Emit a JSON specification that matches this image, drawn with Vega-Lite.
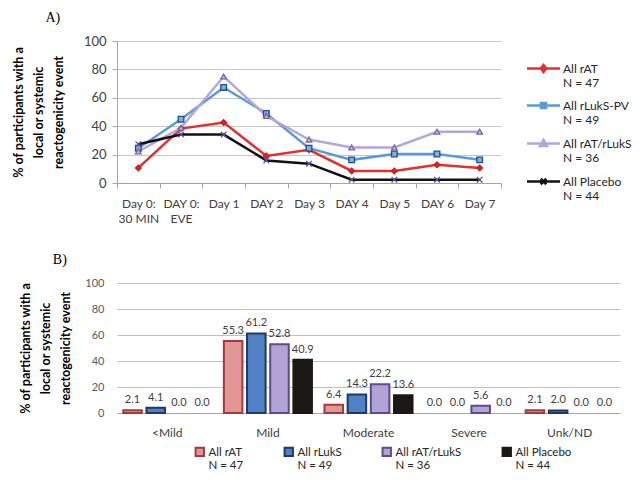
{
  "$schema": "https://vega.github.io/schema/vega-lite/v6.json",
  "background": "white",
  "padding": {"left": 12, "top": 11, "right": 0, "bottom": 0},
  "spacing": 29,
  "config": {
    "font": "Lato",
    "view": {"stroke": null},
    "axis": {"titleLineHeight": 20},
    "title": {"font": "Liberation Serif", "fontSize": 14, "fontWeight": "normal", "anchor": "start", "color": "black"}
  },
  "vconcat": [
    {
      "title": {"text": "A)", "dx": 33, "offset": 10},
      "width": 384,
      "height": 142,
      "data": {"values": [
        {"day": "Day 0: 30 MIN", "series": "All rAT", "pct": 10.6},
        {"day": "DAY 0: EVE", "series": "All rAT", "pct": 38.3},
        {"day": "Day 1", "series": "All rAT", "pct": 42.6},
        {"day": "DAY 2", "series": "All rAT", "pct": 19.1},
        {"day": "Day 3", "series": "All rAT", "pct": 23.4},
        {"day": "DAY 4", "series": "All rAT", "pct": 8.5},
        {"day": "Day 5", "series": "All rAT", "pct": 8.5},
        {"day": "DAY 6", "series": "All rAT", "pct": 12.8},
        {"day": "Day 7", "series": "All rAT", "pct": 10.6},
        {"day": "Day 0: 30 MIN", "series": "All rLukS-PV", "pct": 24.5},
        {"day": "DAY 0: EVE", "series": "All rLukS-PV", "pct": 44.9},
        {"day": "Day 1", "series": "All rLukS-PV", "pct": 67.3},
        {"day": "DAY 2", "series": "All rLukS-PV", "pct": 49.0},
        {"day": "Day 3", "series": "All rLukS-PV", "pct": 24.5},
        {"day": "DAY 4", "series": "All rLukS-PV", "pct": 16.3},
        {"day": "Day 5", "series": "All rLukS-PV", "pct": 20.4},
        {"day": "DAY 6", "series": "All rLukS-PV", "pct": 20.4},
        {"day": "Day 7", "series": "All rLukS-PV", "pct": 16.3},
        {"day": "Day 0: 30 MIN", "series": "All rAT/rLukS", "pct": 22.2},
        {"day": "DAY 0: EVE", "series": "All rAT/rLukS", "pct": 38.9},
        {"day": "Day 1", "series": "All rAT/rLukS", "pct": 75.0},
        {"day": "DAY 2", "series": "All rAT/rLukS", "pct": 47.2},
        {"day": "Day 3", "series": "All rAT/rLukS", "pct": 30.6},
        {"day": "DAY 4", "series": "All rAT/rLukS", "pct": 25.0},
        {"day": "Day 5", "series": "All rAT/rLukS", "pct": 25.0},
        {"day": "DAY 6", "series": "All rAT/rLukS", "pct": 36.1},
        {"day": "Day 7", "series": "All rAT/rLukS", "pct": 36.1},
        {"day": "Day 0: 30 MIN", "series": "All Placebo", "pct": 27.3},
        {"day": "DAY 0: EVE", "series": "All Placebo", "pct": 34.1},
        {"day": "Day 1", "series": "All Placebo", "pct": 34.1},
        {"day": "DAY 2", "series": "All Placebo", "pct": 15.9},
        {"day": "Day 3", "series": "All Placebo", "pct": 13.6},
        {"day": "DAY 4", "series": "All Placebo", "pct": 2.3},
        {"day": "Day 5", "series": "All Placebo", "pct": 2.3},
        {"day": "DAY 6", "series": "All Placebo", "pct": 2.3},
        {"day": "Day 7", "series": "All Placebo", "pct": 2.3}
      ]},
      "encoding": {
        "x": {
          "field": "day", "type": "ordinal",
          "sort": ["Day 0: 30 MIN", "DAY 0: EVE", "Day 1", "DAY 2", "Day 3", "DAY 4", "Day 5", "DAY 6", "Day 7"],
          "scale": {"type": "band", "paddingInner": 0, "paddingOuter": 0},
          "axis": {
            "title": null, "labelAngle": 0, "labelFontSize": 12, "labelLineHeight": 15, "labelColor": "#404040",
            "labelPadding": 10, "tickBand": "extent", "tickSize": 5, "tickColor": "#A6A6A6", "domainColor": "#A6A6A6",
            "grid": false,
            "labelExpr": "datum.label == 'Day 0: 30 MIN' ? ['Day 0:', '30 MIN'] : datum.label == 'DAY 0: EVE' ? ['DAY 0:', 'EVE'] : datum.label"
          }
        },
        "y": {
          "field": "pct", "type": "quantitative",
          "scale": {"domain": [0, 100]},
          "axis": {
            "title": ["% of participants with a", "local or systemic", "reactogenicity event"],
            "titleFontSize": 12.5, "titleFontWeight": "bold", "titleColor": "black", "titleLineHeight": 20, "titlePadding": 18,
            "values": [0, 20, 40, 60, 80, 100], "labelFontSize": 13, "labelColor": "#404040", "labelPadding": 6,
            "tickSize": 5, "tickColor": "#A6A6A6", "domainColor": "#A6A6A6", "gridColor": "#C8C8C8"
          }
        }
      },
      "layer": [
        {
          "mark": {"type": "line", "strokeWidth": 2.5},
          "encoding": {
            "color": {"field": "series", "type": "nominal",
              "scale": {"domain": ["All rAT", "All rLukS-PV", "All rAT/rLukS", "All Placebo"], "range": ["#E0302F", "#5B9BD5", "#B4A7D6", "#111111"]},
              "legend": null}
          }
        },
        {
          "mark": {"type": "point", "size": 32, "strokeWidth": 1.3, "opacity": 1},
          "encoding": {
            "shape": {"field": "series", "type": "nominal",
              "scale": {"domain": ["All rAT", "All rLukS-PV", "All rAT/rLukS", "All Placebo"], "range": ["diamond", "square", "triangle-up", "M-1,-1L1,1M-1,1L1,-1"]},
              "legend": null},
            "fill": {"field": "series", "type": "nominal",
              "scale": {"domain": ["All rAT", "All rLukS-PV", "All rAT/rLukS", "All Placebo"], "range": ["#D42A2A", "#7FAEE0", "#C8BEE0", "#6050A0"]},
              "legend": null},
            "stroke": {"field": "series", "type": "nominal",
              "scale": {"domain": ["All rAT", "All rLukS-PV", "All rAT/rLukS", "All Placebo"], "range": ["#C02020", "#1F4E8C", "#8064A2", "#6050A0"]},
              "legend": null}
          }
        },
        {
          "transform": [{"filter": "false"}],
          "mark": {"type": "point", "opacity": 1},
          "encoding": {
            "shape": {"field": "series", "type": "nominal",
              "scale": {"domain": ["All rAT", "All rLukS-PV", "All rAT/rLukS", "All Placebo"],
                "range": ["M-3.3,0H3.3M0,-0.7L0.55,0L0,0.7L-0.55,0Z", "M-3.3,0H3.3M-0.5,-0.5H0.5V0.5H-0.5Z", "M-3.3,0H3.3M0,-0.7L0.7,0.5H-0.7Z", "M-3.3,0H3.3M-0.55,-0.55L0.55,0.55M-0.55,0.55L0.55,-0.55"]},
              "legend": {"orient": "none", "legendX": 420, "legendY": 21, "title": null, "symbolSize": 100, "symbolStrokeWidth": 2.5, "symbolOpacity": 1,
                "labelOffset": 13, "labelFontSize": 12, "labelColor": "#262626", "labelLineHeight": 15, "labelBaseline": "alphabetic", "rowPadding": 9,
                "labelExpr": "[datum.label, datum.label == 'All rAT' ? 'N = 47' : datum.label == 'All rLukS-PV' ? 'N = 49' : datum.label == 'All rAT/rLukS' ? 'N = 36' : 'N = 44']",
                "encoding": {"labels": {"dy": {"value": 4}}}}},
            "fill": {"field": "series", "type": "nominal",
              "scale": {"domain": ["All rAT", "All rLukS-PV", "All rAT/rLukS", "All Placebo"], "range": ["#D42A2A", "#7FAEE0", "#B4A7D6", "#6050A0"]},
              "legend": {"orient": "none", "legendX": 420, "legendY": 21, "title": null, "symbolSize": 100, "symbolStrokeWidth": 2.5, "symbolOpacity": 1,
                "labelOffset": 13, "labelFontSize": 12, "labelColor": "#262626", "labelLineHeight": 15, "labelBaseline": "alphabetic", "rowPadding": 9,
                "labelExpr": "[datum.label, datum.label == 'All rAT' ? 'N = 47' : datum.label == 'All rLukS-PV' ? 'N = 49' : datum.label == 'All rAT/rLukS' ? 'N = 36' : 'N = 44']",
                "encoding": {"labels": {"dy": {"value": 4}}}}},
            "stroke": {"field": "series", "type": "nominal",
              "scale": {"domain": ["All rAT", "All rLukS-PV", "All rAT/rLukS", "All Placebo"], "range": ["#E0302F", "#5B9BD5", "#B4A7D6", "#111111"]},
              "legend": {"orient": "none", "legendX": 420, "legendY": 21, "title": null, "symbolSize": 100, "symbolStrokeWidth": 2.5, "symbolOpacity": 1,
                "labelOffset": 13, "labelFontSize": 12, "labelColor": "#262626", "labelLineHeight": 15, "labelBaseline": "alphabetic", "rowPadding": 9,
                "labelExpr": "[datum.label, datum.label == 'All rAT' ? 'N = 47' : datum.label == 'All rLukS-PV' ? 'N = 49' : datum.label == 'All rAT/rLukS' ? 'N = 36' : 'N = 44']",
                "encoding": {"labels": {"dy": {"value": 4}}}}}
          }
        }
      ],
      "resolve": {"scale": {"shape": "independent", "fill": "independent", "stroke": "independent"}}
    },
    {
      "title": {"text": "B)", "dx": 33, "offset": 10},
      "width": 503,
      "height": 130,
      "data": {"values": [
        {"severity": "<Mild", "group": "All rAT", "pct": 2.1},
        {"severity": "<Mild", "group": "All rLukS", "pct": 4.1},
        {"severity": "<Mild", "group": "All rAT/rLukS", "pct": 0.0},
        {"severity": "<Mild", "group": "All Placebo", "pct": 0.0},
        {"severity": "Mild", "group": "All rAT", "pct": 55.3},
        {"severity": "Mild", "group": "All rLukS", "pct": 61.2},
        {"severity": "Mild", "group": "All rAT/rLukS", "pct": 52.8},
        {"severity": "Mild", "group": "All Placebo", "pct": 40.9},
        {"severity": "Moderate", "group": "All rAT", "pct": 6.4},
        {"severity": "Moderate", "group": "All rLukS", "pct": 14.3},
        {"severity": "Moderate", "group": "All rAT/rLukS", "pct": 22.2},
        {"severity": "Moderate", "group": "All Placebo", "pct": 13.6},
        {"severity": "Severe", "group": "All rAT", "pct": 0.0},
        {"severity": "Severe", "group": "All rLukS", "pct": 0.0},
        {"severity": "Severe", "group": "All rAT/rLukS", "pct": 5.6},
        {"severity": "Severe", "group": "All Placebo", "pct": 0.0},
        {"severity": "Unk/ND", "group": "All rAT", "pct": 2.1},
        {"severity": "Unk/ND", "group": "All rLukS", "pct": 2.0},
        {"severity": "Unk/ND", "group": "All rAT/rLukS", "pct": 0.0},
        {"severity": "Unk/ND", "group": "All Placebo", "pct": 0.0}
      ]},
      "encoding": {
        "x": {
          "field": "severity", "type": "nominal",
          "sort": ["<Mild", "Mild", "Moderate", "Severe", "Unk/ND"],
          "scale": {"paddingInner": 0, "paddingOuter": 0},
          "axis": {"title": null, "labelAngle": 0, "labelFontSize": 12, "labelColor": "#404040", "labelPadding": 14,
            "ticks": false, "domainColor": "#A6A6A6", "grid": false}
        },
        "xOffset": {
          "field": "group", "type": "nominal",
          "sort": ["All rAT", "All rLukS", "All rAT/rLukS", "All Placebo"],
          "scale": {"domain": ["All rAT", "All rLukS", "All rAT/rLukS", "All Placebo"], "paddingInner": 0.2, "paddingOuter": 0.27}
        },
        "y": {
          "field": "pct", "type": "quantitative",
          "scale": {"domain": [0, 100]},
          "axis": {
            "title": ["% of participants with a", "local or systemic", "reactogenicity event"],
            "titleFontSize": 12.5, "titleFontWeight": "bold", "titleColor": "black", "titleLineHeight": 20, "titlePadding": 12,
            "values": [0, 20, 40, 60, 80, 100], "labelFontSize": 11, "labelColor": "#595959", "labelPadding": 13,
            "ticks": false, "domain": false, "gridColor": "#BFBFBF"
          }
        }
      },
      "layer": [
        {
          "transform": [{"filter": "datum.pct > 0"}],
          "mark": {"type": "bar", "strokeWidth": 2},
          "encoding": {
            "fill": {"field": "group", "type": "nominal",
              "scale": {"domain": ["All rAT", "All rLukS", "All rAT/rLukS", "All Placebo"], "range": ["#E39696", "#4F81C6", "#B3A2D5", "#1C1815"]},
              "legend": {"orient": "none", "direction": "horizontal", "columns": 4, "legendX": 77, "legendY": 405, "title": null,
                "symbolType": "square", "symbolSize": 70, "symbolStrokeWidth": 2, "symbolOpacity": 1, "columnPadding": 36,
                "labelOffset": 3, "labelFontSize": 11.5, "labelColor": "#262626", "labelLineHeight": 16, "labelBaseline": "alphabetic",
                "labelExpr": "[datum.label, datum.label == 'All rAT' ? 'N = 47' : datum.label == 'All rLukS' ? 'N = 49' : datum.label == 'All rAT/rLukS' ? 'N = 36' : 'N = 44']",
                "encoding": {"labels": {"dy": {"value": 4}}}}},
            "stroke": {"field": "group", "type": "nominal",
              "scale": {"domain": ["All rAT", "All rLukS", "All rAT/rLukS", "All Placebo"], "range": ["#A23B3B", "#1F3864", "#604A8E", "#1C1815"]},
              "legend": {"orient": "none", "direction": "horizontal", "columns": 4, "legendX": 77, "legendY": 405, "title": null,
                "symbolType": "square", "symbolSize": 70, "symbolStrokeWidth": 2, "symbolOpacity": 1, "columnPadding": 36,
                "labelOffset": 3, "labelFontSize": 11.5, "labelColor": "#262626", "labelLineHeight": 16, "labelBaseline": "alphabetic",
                "labelExpr": "[datum.label, datum.label == 'All rAT' ? 'N = 47' : datum.label == 'All rLukS' ? 'N = 49' : datum.label == 'All rAT/rLukS' ? 'N = 36' : 'N = 44']",
                "encoding": {"labels": {"dy": {"value": 4}}}}}
          }
        },
        {
          "mark": {"type": "text", "baseline": "bottom", "dy": -5, "fontSize": 11, "color": "#404040"},
          "encoding": {
            "text": {"field": "pct", "type": "quantitative", "format": ".1f"}
          }
        }
      ]
    }
  ]
}
